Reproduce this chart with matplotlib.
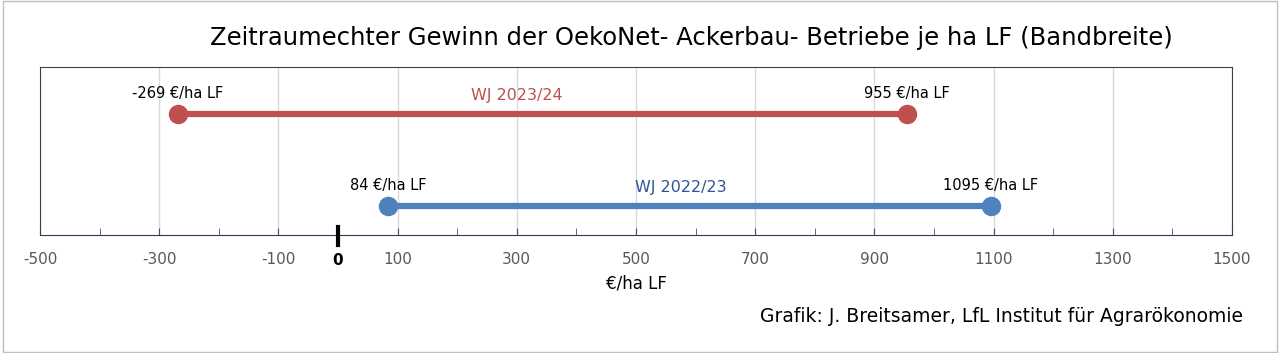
import matplotlib.pyplot as plt
from matplotlib.patches import Rectangle

plt.rcParams['axes.unicode_minus'] = False

# Bandbreite des Gewinns je ha LF
jahre = ['WJ 2022/23', 'WJ 2023/24']
minimum = [84, -269]
maximum = [1095, 955]
farben = ['#4F81BD', '#C0504D']
textfarben = ['#2F5597', '#C0504D']
label_x = [575, 300]

major = list(range(-500, 1501, 200))
minor = list(range(-400, 1501, 200))

fig = plt.figure(figsize=(12.8, 3.53), dpi=100)
ax = fig.add_axes([40 / 1280, 1 - 235 / 353, 1192 / 1280, 168 / 353])

for i, jahr in enumerate(jahre):
    ax.plot([minimum[i], maximum[i]], [i, i], color=farben[i], lw=4.5,
            solid_capstyle='butt', zorder=3)
    ax.plot([minimum[i], maximum[i]], [i, i], 'o', color=farben[i],
            markersize=13, zorder=4)
    ax.text(label_x[i], i + 0.12, jahr, color=textfarben[i], fontsize=11.5,
            ha='center', va='bottom')
    ax.text(minimum[i], i + 0.14, f'{minimum[i]} €/ha LF', fontsize=10.5,
            ha='center', va='bottom')
    ax.text(maximum[i], i + 0.14, f'{maximum[i]} €/ha LF', fontsize=10.5,
            ha='center', va='bottom')

ax.set_xlim(-500, 1500)
ax.set_ylim(-0.315, 1.51)
ax.set_yticks([])
ax.set_xticks(major)
ax.set_xticks(minor, minor=True)
ax.tick_params(axis='x', which='both', direction='in', length=5,
               color='#44546A', labelsize=11, labelcolor='#595959', pad=12)
ax.grid(axis='x', which='major', color='#D9D9D9', lw=1)
ax.set_axisbelow(True)
for s in ['top', 'left', 'right']:
    ax.spines[s].set_color('#404040')
ax.spines['bottom'].set_color('#2E3B55')

# Null-Markierung
ax.plot([0, 0], [-0.315 - 0.11, -0.315 + 0.09], color='black', lw=3,
        clip_on=False, zorder=5)
ax.text(0, -0.315 - 0.2, '0', fontsize=11, fontweight='bold', ha='center',
        va='top')

ax.set_xlabel('€/ha LF', fontsize=12, labelpad=6)

fig.text(691 / 1280, 1 - 38 / 353, 'Zeitraumechter Gewinn der OekoNet- Ackerbau- Betriebe je ha LF (Bandbreite)',
         fontsize=17.5, ha='center', va='center')
fig.text(1243 / 1280, 1 - 316 / 353, 'Grafik: J. Breitsamer, LfL Institut für Agrarökonomie',
         fontsize=13.5, ha='right', va='center')

fig.patches.append(Rectangle((0.002, 0.003), 0.996, 0.994, transform=fig.transFigure,
                             fill=False, edgecolor='#BFBFBF', lw=1))

plt.savefig('out.png', dpi=100)
